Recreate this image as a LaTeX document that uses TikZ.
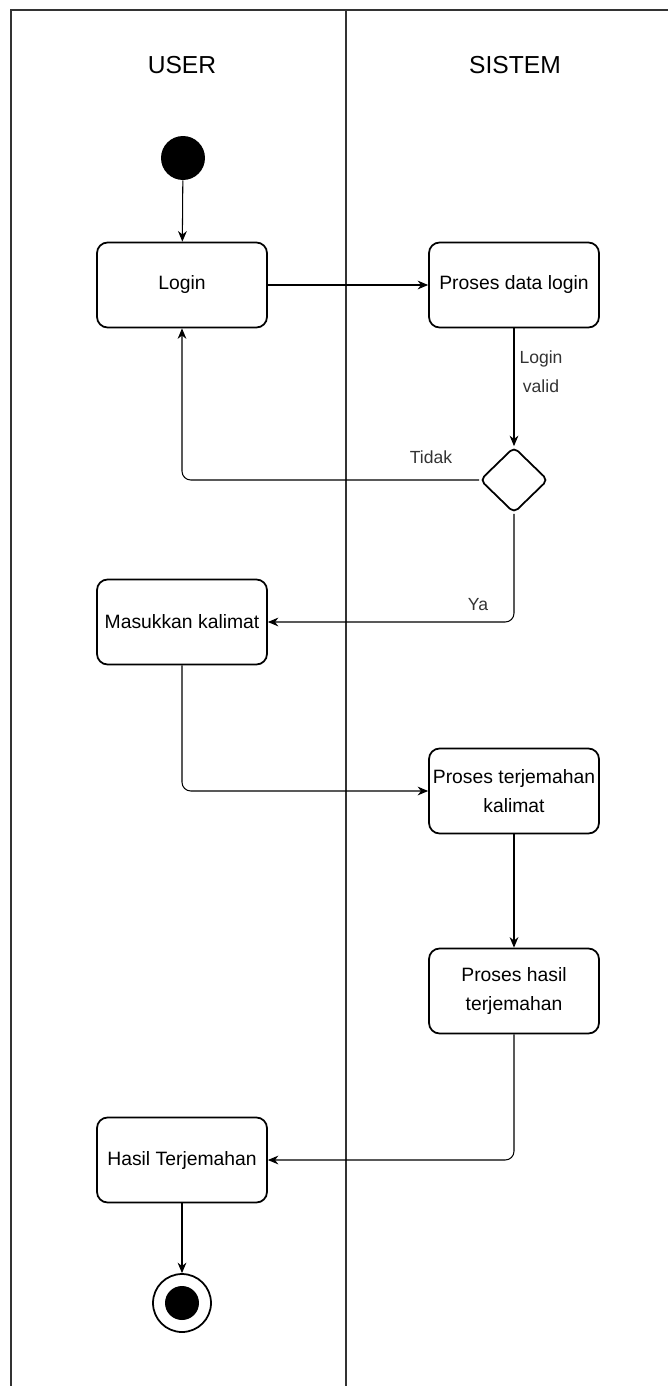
\documentclass[tikz,border=0pt]{standalone}
\usepackage{fontspec}
\setmainfont{Liberation Sans}
\usetikzlibrary{arrows.meta}
\usetikzlibrary{shapes.geometric}
\usetikzlibrary{positioning}

\begin{document}
\begin{tikzpicture}[
  x=0.02cm, y=-0.02cm,
  > = {Stealth[length=6pt,width=5pt]},
  lane/.style = {draw=black!80, line width=0.8pt},
  act/.style = {draw, rounded corners=6pt, line width=1pt, minimum width=3.4cm, minimum height=1.7cm,
                align=center, inner sep=2pt, font=\fontsize{11}{16.5}\selectfont},
  dec/.style = {draw, diamond, rounded corners=3pt, line width=1pt, minimum width=1.36cm, minimum height=1.32cm, inner sep=0pt},
  start/.style = {circle, fill, minimum size=0.88cm, inner sep=0pt},
  stop/.style = {circle, draw, line width=1pt, minimum size=1.16cm, inner sep=0pt},
  flow/.style = {->, line width=0.6pt, rounded corners=5pt},
  guard/.style = {align=center, text=black!80, font=\fontsize{10}{16.5}\selectfont},
  lanehead/.style = {font=\fontsize{14}{17}\selectfont}
  ]
	\useasboundingbox (0,0) rectangle (668,1386);

	% swimlanes
	\draw[lane] (11,1386) -- (11,10) -- (668,10);
	\draw[lane] (346,10) -- (346,1386);
	\node[lanehead] (user) at (182,65) {USER};
	\node[lanehead] (sistem) at (515,65) {SISTEM};

	\node[start] (mulai) at (183,158) {};
	\node[act] (login) at (182,285) {Login};
	\node[act] (proslogin) at (514,285) {Proses data login};
	\node[dec] (cek) at (514,480) {};
	\node[act] (masuk) at (182,622) {Masukkan kalimat};
	\node[act] (terjemah) at (514,791) {Proses terjemahan\\kalimat};
	\node[act] (proshasil) at (514,991) {Proses hasil\\terjemahan};
	\node[act] (hasil) at (182,1160) {Hasil Terjemahan};
	\node[stop] (selesai) at (182,1303) {};
	\fill (selesai.center) circle (0.34cm);

	\node[guard] (valid) at (541,372) {Login\\valid};
	\node[guard] (tidak) at (431,457) {Tidak};
	\node[guard] (ya) at (478,605) {Ya};

	\draw[flow] (mulai) -- (login);
	\draw[flow] (login) -- (proslogin);
	\draw[flow] (proslogin) -- (cek);
	\draw[flow] (cek.west) -| (login.south);
	\draw[flow] (cek.south) |- (masuk.east);
	\draw[flow] (masuk.south) |- (terjemah.west);
	\draw[flow] (terjemah) -- (proshasil);
	\draw[flow] (proshasil.south) |- (hasil.east);
	\draw[flow] (hasil) -- (selesai);

\end{tikzpicture}
\end{document}
